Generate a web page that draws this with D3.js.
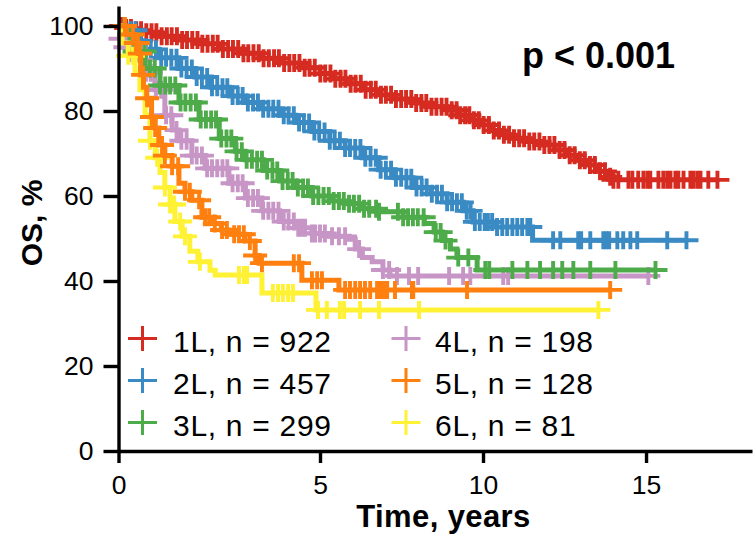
<!DOCTYPE html>
<html>
<head>
<meta charset="utf-8">
<script src="https://cdn.jsdelivr.net/npm/d3@7"></script>
<style>
  body { margin: 0; background: #fff; }
  text { font-family: "Liberation Sans", Arial, Helvetica, sans-serif; }
</style>
</head>
<body>
<svg id="chart" width="755" height="536"></svg>
<script>
// ---- data -------------------------------------------------------------
const groups = ["1L", "2L", "3L", "4L", "5L", "6L"];
const counts = [922, 457, 299, 198, 128, 81];
const xTicks = [0, 5, 10, 15];
const yTicks = [0, 20, 40, 60, 80, 100];
const pLabel = "p < 0.001";

// Kaplan–Meier steps: time (years) at which survival (%) changes
const time1L = [0, 0.1, 0.35, 0.66, 1.0, 1.5, 2.0, 2.5, 3.0, 3.5, 4.0, 4.5, 5.0, 5.4, 5.8, 6.3, 6.8, 7.3, 7.9, 8.4, 8.9, 9.3, 9.6, 9.9, 10.3, 10.6, 10.9, 11.3, 11.8, 12.2, 12.6, 12.9, 13.2, 13.5, 13.8, 14.0];
const surv1L = [100, 99.5, 99, 98.5, 97.6, 96.7, 95.8, 94.6, 93.6, 92.4, 91.3, 90.2, 88.8, 87.6, 86.4, 85.0, 83.8, 82.8, 81.9, 81.0, 80.2, 79.0, 77.8, 76.7, 75.4, 74.4, 73.6, 72.8, 72.0, 70.8, 69.6, 68.4, 67.3, 65.8, 64.5, 63.8];
const cens1L = [0.06, 0.19, 0.31, 0.44, 0.56, 0.69, 0.82, 0.94, 1.07, 1.2, 1.32, 1.45, 1.58, 1.7, 1.83, 1.96, 2.08, 2.21, 2.34, 2.46, 2.59, 2.72, 2.84, 2.97, 3.1, 3.22, 3.35, 3.48, 3.6, 3.73, 3.86, 3.98, 4.11, 4.24, 4.36, 4.49, 4.62, 4.74, 4.87, 5.01, 5.16, 5.32, 5.47, 5.63, 5.78, 5.94, 6.09, 6.25, 6.4, 6.56, 6.71, 6.87, 7.02, 7.18, 7.33, 7.49, 7.64, 7.8, 7.95, 8.11, 8.26, 8.42, 8.57, 8.73, 8.88, 9.04, 9.19, 9.3, 9.45, 9.58, 9.72, 9.87, 10.02, 10.18, 10.33, 10.49, 10.64, 10.8, 10.95, 11.11, 11.26, 11.42, 11.57, 11.73, 11.88, 12.04, 12.19, 12.35, 12.5, 12.66, 12.81, 12.97, 13.12, 13.28, 13.43, 13.59, 13.74, 13.9, 14.0, 14.15, 14.46, 14.58, 14.76, 14.92, 15.04, 15.13, 15.38, 15.53, 15.65, 15.75, 15.9, 15.99, 16.15, 16.36, 16.45, 16.57, 16.67, 16.91, 17.19];

const time2L = [0, 0.25, 0.45, 0.66, 1.0, 1.5, 1.9, 2.3, 2.75, 3.15, 3.55, 4.0, 4.4, 4.8, 5.3, 5.77, 6.3, 6.8, 7.3, 7.85, 8.4, 8.9, 9.4, 9.7, 10.4, 11.52];
const surv2L = [100, 99, 96.5, 94.5, 92.5, 90, 88, 85.6, 83.5, 82, 80.5, 79, 77.3, 75.2, 73, 71.3, 69, 66.2, 64.3, 62, 60.5, 58.5, 56.5, 53.9, 52.7, 49.6];
const cens2L = [0.3, 0.42, 0.55, 0.68, 0.8, 0.93, 1.06, 1.18, 1.31, 1.44, 1.56, 1.69, 1.82, 1.94, 2.07, 2.2, 2.32, 2.45, 2.58, 2.7, 2.83, 2.96, 3.08, 3.21, 3.34, 3.46, 3.59, 3.72, 3.84, 3.97, 4.1, 4.22, 4.35, 4.48, 4.6, 4.73, 4.86, 4.98, 5.14, 5.3, 5.45, 5.61, 5.77, 5.92, 6.08, 6.24, 6.39, 6.55, 6.71, 6.86, 7.02, 7.18, 7.33, 7.49, 7.65, 7.8, 7.96, 8.12, 8.27, 8.43, 8.59, 8.74, 8.9, 9.05, 9.2, 9.35, 9.5, 9.62, 9.75, 9.9, 10.05, 10.15, 10.28, 10.43, 10.59, 10.74, 10.9, 11.05, 11.2, 11.36, 11.45, 12.15, 12.37, 12.92, 13.01, 13.29, 13.69, 13.78, 13.87, 14.12, 14.3, 14.52, 14.73, 15.65, 16.24];

const time3L = [0, 0.16, 0.4, 0.66, 1.03, 1.5, 2.0, 2.5, 2.9, 3.14, 3.6, 4.0, 4.4, 4.8, 5.3, 5.8, 6.3, 6.8, 7.55, 8.2, 8.5, 8.75, 9.0, 9.2, 9.82];
const surv3L = [100, 98, 94, 90, 86, 82, 78, 73.5, 70.5, 68.5, 66, 63.5, 62, 60, 58.8, 58.2, 57, 56.3, 55, 53.5, 51.5, 49.5, 47.5, 45.5, 42.6];
const cens3L = [0.15, 0.27, 0.4, 0.52, 0.65, 0.78, 0.9, 1.03, 1.16, 1.28, 1.41, 1.54, 1.66, 1.79, 1.92, 2.04, 2.17, 2.3, 2.42, 2.55, 2.68, 2.8, 2.93, 3.06, 3.18, 3.31, 3.44, 3.56, 3.69, 3.82, 3.94, 4.07, 4.2, 4.32, 4.45, 4.58, 4.7, 4.83, 4.96, 5.11, 5.27, 5.42, 5.58, 5.73, 5.89, 6.04, 6.2, 6.35, 6.51, 6.72, 6.81, 7.39, 7.55, 7.7, 7.85, 8.0, 8.18, 8.55, 8.7, 8.85, 9.24, 9.55, 10.07, 10.19, 10.9, 11.36, 11.75, 12.15, 12.43, 12.77, 13.29, 14.06, 15.29];

const time4L = [0, 0.05, 0.09, 0.5, 0.66, 0.9, 1.15, 1.33, 1.5, 1.82, 2.15, 2.74, 3.15, 3.56, 4.0, 4.38, 4.8, 5.28, 5.9, 6.08, 6.3, 6.6, 6.93, 7.15];
const surv4L = [100, 97, 95, 92, 89, 85, 79, 75.5, 73, 69.5, 66.5, 63, 59.5, 56.5, 54, 52.5, 51.2, 50.5, 49.8, 47.5, 45.5, 44.5, 42.6, 41.2];
const cens4L = [0.05, 0.17, 0.3, 0.42, 0.55, 0.68, 0.8, 0.93, 1.06, 1.18, 1.31, 1.44, 1.56, 1.69, 1.82, 1.94, 2.07, 2.2, 2.32, 2.45, 2.58, 2.7, 2.83, 2.96, 3.08, 3.21, 3.34, 3.46, 3.59, 3.72, 3.84, 3.97, 4.1, 4.22, 4.35, 4.46, 4.55, 4.63, 4.8, 4.88, 5.0, 5.15, 5.37, 5.58, 5.77, 6.2, 6.93, 7.12, 7.36, 7.73, 8.01, 8.96, 9.39, 9.61, 10.62, 10.77, 15.07];

const time5L = [0, 0.2, 0.4, 0.5, 0.55, 0.62, 0.7, 0.82, 0.91, 1.0, 1.15, 1.33, 1.5, 1.65, 1.82, 2.07, 2.32, 2.55, 2.74, 3.14, 3.39, 3.49, 4.55, 5.58];
const surv5L = [100, 98, 96, 93.5, 88.5, 85.6, 83, 78.6, 76, 72, 69.5, 67, 63, 61, 59, 55, 53.5, 52, 51, 49.4, 46, 44.2, 40.2, 37.9];
const cens5L = [0.16, 0.36, 0.43, 0.48, 0.53, 0.61, 0.71, 0.83, 0.91, 1.08, 1.15, 1.33, 1.48, 1.65, 1.77, 2.0, 2.15, 2.25, 2.39, 2.57, 2.69, 2.87, 2.99, 3.11, 3.26, 3.39, 3.56, 4.35, 4.48, 4.8, 4.93, 5.06, 5.77, 5.92, 6.08, 6.23, 6.38, 6.54, 6.75, 6.84, 6.9, 6.96, 7.06, 7.3, 7.82, 7.86, 9.51, 13.9];

const time6L = [0, 0.09, 0.24, 0.41, 0.53, 0.66, 0.78, 0.91, 1.03, 1.15, 1.28, 1.4, 1.58, 1.77, 1.97, 2.27, 2.4, 3.56, 4.9];
const surv6L = [100, 96, 93, 89, 85, 79, 73, 69, 65.5, 62, 58, 54, 50.5, 47, 44.5, 42.5, 41.4, 37.2, 33.2];
const cens6L = [0.24, 0.36, 0.78, 0.96, 1.15, 1.28, 1.38, 1.53, 1.65, 2.02, 2.99, 3.11, 3.19, 3.83, 3.96, 4.08, 4.21, 4.33, 4.95, 5.21, 5.61, 5.74, 6.23, 6.81, 8.04, 13.54];

// ---- styling ----------------------------------------------------------
const colors = ["#d62b21", "#3a8ac3", "#4eab4a", "#c796c6", "#ff7f0f", "#fff133"];
const FONT = '"Liberation Sans", Arial, Helvetica, sans-serif';

const series = [
  { name: groups[0], n: counts[0], time: time1L, surv: surv1L, cens: cens1L, color: colors[0] },
  { name: groups[1], n: counts[1], time: time2L, surv: surv2L, cens: cens2L, color: colors[1] },
  { name: groups[2], n: counts[2], time: time3L, surv: surv3L, cens: cens3L, color: colors[2] },
  { name: groups[3], n: counts[3], time: time4L, surv: surv4L, cens: cens4L, color: colors[3] },
  { name: groups[4], n: counts[4], time: time5L, surv: surv5L, cens: cens5L, color: colors[4] },
  { name: groups[5], n: counts[5], time: time6L, surv: surv6L, cens: cens6L, color: colors[5] }
];

// ---- scales -----------------------------------------------------------
// first five years are given extra room on the time axis
const x = d3.scaleLinear().domain([0, 5, 18.25]).range([118.5, 320, 752]);
const y = d3.scaleLinear().domain([0, 104.7]).range([451, 6]);

const svg = d3.select("#chart");

// ---- curves -----------------------------------------------------------
function survAt(s, t) {
  let v = 100;
  for (let i = 0; i < s.time.length; i++) if (s.time[i] <= t) v = s.surv[i];
  return v;
}
function stepPoints(s) {
  const pts = s.time.map((t, i) => [t, s.surv[i]]);
  pts.push([d3.max(s.cens), s.surv[s.surv.length - 1]]);
  return pts;
}
const line = d3.line()
  .x(d => x(d[0]))
  .y(d => y(d[1]))
  .curve(d3.curveStepAfter);

const drawOrder = [0, 1, 3, 2, 5, 4];
const curves = svg.append("g").attr("class", "curves");
drawOrder.forEach(i => {
  const s = series[i];
  const g = curves.append("g");
  g.append("path")
    .attr("d", line(stepPoints(s)))
    .attr("fill", "none")
    .attr("stroke", s.color)
    .attr("stroke-width", 5);
  g.selectAll("path.cens")
    .data(s.cens)
    .join("path")
    .attr("class", "cens")
    .attr("transform", t => `translate(${x(t)},${y(survAt(s, t))})`)
    .attr("d", "M-12,0H12M0,-9V9")
    .attr("fill", "none")
    .attr("stroke", s.color)
    .attr("stroke-width", 3.9);
});

// ---- axes -------------------------------------------------------------
const yAxis = svg.append("g")
  .attr("transform", `translate(${x(0)},0)`)
  .call(d3.axisLeft(y).tickValues(yTicks).tickSize(15).tickSizeOuter(0).tickPadding(10));
const xAxis = svg.append("g")
  .attr("transform", `translate(0,${y(0)})`)
  .call(d3.axisBottom(x).tickValues(xTicks).tickSize(12).tickSizeOuter(0).tickPadding(12));

[yAxis, xAxis].forEach(a => {
  a.select(".domain").attr("stroke", "#000").attr("stroke-width", 3.4);
  a.selectAll(".tick line").attr("stroke", "#000").attr("stroke-width", 3.4);
  a.selectAll(".tick text")
    .attr("fill", "#000")
    .style("font-family", FONT)
    .style("font-size", "26.5px");
});

// axis titles
svg.append("text")
  .attr("x", 443.5).attr("y", 527)
  .attr("text-anchor", "middle")
  .style("font-size", "31px").style("font-weight", "bold")
  .style("letter-spacing", "0.4px")
  .text("Time, years");
svg.append("text")
  .attr("transform", "translate(42,223) rotate(-90)")
  .attr("text-anchor", "middle")
  .style("font-size", "30px").style("font-weight", "bold")
  .text("OS, %");

// log-rank p-value
svg.append("text")
  .attr("x", 522).attr("y", 68)
  .style("font-size", "36px").style("font-weight", "bold")
  .text(pLabel);

// ---- legend -----------------------------------------------------------
const legend = svg.append("g").attr("class", "legend");
series.forEach((s, i) => {
  const col = Math.floor(i / 3), row = i % 3;
  const mx = col === 0 ? 142.5 : 406;
  const tx = col === 0 ? 173 : 435;
  const by = 352 + row * 42;
  legend.append("path")
    .attr("transform", `translate(${mx},${by - 13.5})`)
    .attr("d", "M-14.5,0H14.5M0,-12.5V12.5")
    .attr("fill", "none")
    .attr("stroke", s.color)
    .attr("stroke-width", 3);
  legend.append("text")
    .attr("x", tx).attr("y", by)
    .style("font-size", "30px")
    .style("letter-spacing", "0.7px")
    .text(`${s.name}, n = ${s.n}`);
});
</script>
</body>
</html>
